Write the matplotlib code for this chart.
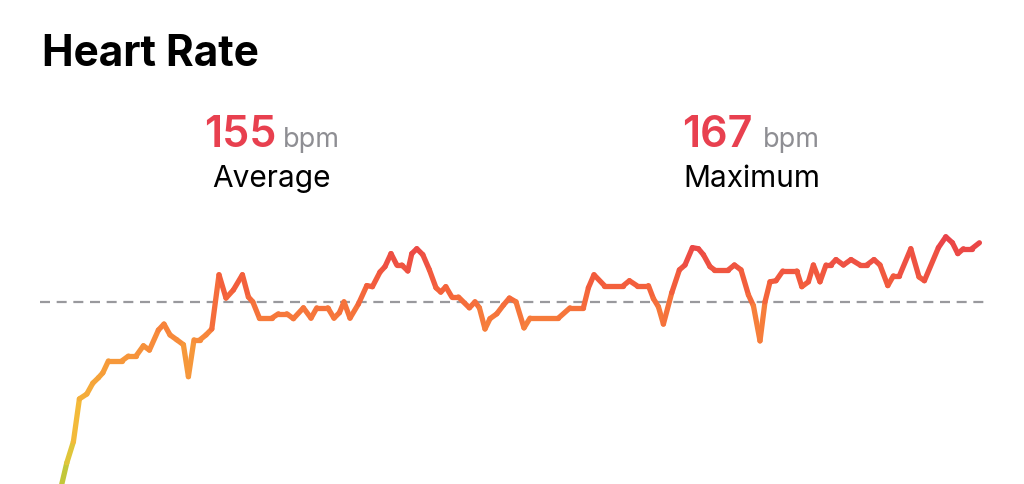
import numpy as np
import matplotlib
matplotlib.use("Agg")
import matplotlib.pyplot as plt
from matplotlib.collections import LineCollection
from matplotlib.colors import LinearSegmentedColormap, Normalize

plt.rcParams["font.family"] = ["Inter", "DejaVu Sans"]

# --- данные (минуты, уд/мин) ---
minutes = [1.09, 1.34, 1.67, 1.97, 2.34, 2.64, 2.92, 3.14, 3.42, 4.09,
           4.42, 4.80, 5.17, 5.47, 5.92, 6.20, 6.50, 6.84, 7.17, 7.42,
           7.70, 8.00, 8.30, 8.59, 8.95, 9.30, 9.67, 10.12, 10.42, 10.64,
           10.97, 11.59, 11.92, 12.34, 12.67, 13.17, 13.55, 13.84, 14.39, 14.70,
           14.97, 15.20, 15.50, 15.92, 16.34, 16.62, 17.00, 17.25, 17.55, 17.84,
           18.09, 18.39, 18.59, 18.84, 19.14, 19.47, 19.80, 20.04, 20.29, 20.59,
           20.92, 21.47, 21.75, 21.97, 22.25, 22.50, 22.84, 23.17, 23.47, 23.80,
           24.20, 24.50, 25.92, 26.50, 27.17, 27.42, 27.70, 28.22, 29.17, 29.47,
           29.84, 30.42, 30.67, 30.92, 31.17, 31.59, 31.97, 32.25, 32.62, 32.92,
           33.17, 33.50, 33.72, 34.42, 34.72, 35.05, 35.42, 35.67, 36.00, 36.25,
           36.50, 36.80, 37.14, 37.84, 38.09, 38.42, 38.67, 39.00, 39.30, 39.54,
           39.80, 40.17, 40.55, 41.00, 41.34, 41.70, 42.00, 42.39, 42.67, 42.97,
           43.54, 43.95, 44.22, 44.92, 45.29, 45.62, 45.89, 46.17, 46.59, 46.97]
bpm = [121.4, 125.3, 129.2, 137.1, 138.0, 140.0, 141.0, 141.9, 144.1, 144.1,
       145.0, 145.0, 146.9, 146.1, 149.8, 150.9, 148.9, 148.0, 147.1, 141.2,
       148.0, 148.0, 148.9, 150.0, 160.0, 155.7, 157.2, 160.0, 155.9, 155.0,
       152.0, 152.0, 152.8, 152.8, 151.9, 153.9, 152.0, 153.9, 153.9, 152.0,
       153.0, 155.0, 152.0, 154.6, 158.0, 157.8, 160.5, 161.5, 163.9, 161.8,
       161.8, 160.7, 163.9, 164.8, 163.7, 160.9, 157.6, 156.8, 157.8, 155.9,
       155.9, 153.9, 155.0, 153.9, 150.0, 151.9, 152.8, 154.4, 155.7, 155.0,
       150.2, 152.0, 152.0, 153.9, 153.9, 157.6, 160.0, 158.0, 158.0, 158.9,
       158.0, 158.0, 155.6, 154.1, 150.9, 156.7, 160.9, 161.8, 165.0, 164.8,
       163.7, 161.5, 160.9, 160.9, 161.8, 160.9, 156.3, 154.3, 147.8, 155.0,
       158.7, 158.9, 160.7, 160.7, 157.8, 158.7, 161.8, 158.7, 161.8, 161.8,
       162.8, 161.8, 162.8, 161.8, 161.8, 162.8, 161.8, 158.0, 159.8, 159.8,
       164.8, 159.6, 158.9, 165.0, 167.0, 165.9, 163.9, 164.8, 164.8, 165.9]
avg_bpm = 155
max_bpm = 167

RED = "#E8404F"
GRAY = "#8E8E93"

fig = plt.figure(figsize=(10.24, 4.84), dpi=100)
fig.patch.set_facecolor("white")

# заголовок и подписи
fig.text(42 / 1024, 1 - 66 / 484, "Heart Rate", fontsize=30.5, fontweight="bold",
         color="black", ha="left", va="baseline")

for cx, num_r, unit_l, val, label in [(271, 276, 283, avg_bpm, "Average"),
                                      (752, 753, 763, max_bpm, "Maximum")]:
    fig.text(num_r / 1024, 1 - 147 / 484, str(val), fontsize=31, fontweight="semibold",
             color=RED, ha="right", va="baseline")
    fig.text(unit_l / 1024, 1 - 147 / 484, "bpm", fontsize=19.5, color=GRAY,
             ha="left", va="baseline")
    fig.text(cx / 1024, 1 - 187 / 484, label, fontsize=21.5, color="black",
             ha="center", va="baseline")

# график
ax = fig.add_axes([40 / 1024, 0, 945 / 1024, 264 / 484])
ax.set_xlim(0, 47.25)
ax.set_ylim(121.4, 170.1)
ax.axis("off")

ax.axhline(avg_bpm, color=GRAY, lw=1.6, ls=(0, (4.5, 3)), alpha=0.9)

cmap = LinearSegmentedColormap.from_list("hr", [
    (0.00, "#B5C83A"), (0.18, "#F2C43A"), (0.40, "#F5A73A"),
    (0.60, "#F7883B"), (0.78, "#F4623B"), (1.00, "#E8404A")])
norm = Normalize(121.4, 167.5)

x = np.array(minutes)
y = np.array(bpm)
pts = np.column_stack([x, y]).reshape(-1, 1, 2)
segs = np.concatenate([pts[:-1], pts[1:]], axis=1)
lc = LineCollection(segs, cmap=cmap, norm=norm, linewidth=3.8,
                    capstyle="round", joinstyle="round")
lc.set_array((y[:-1] + y[1:]) / 2)
ax.add_collection(lc)

plt.savefig("out.png", dpi=100, facecolor="white")
